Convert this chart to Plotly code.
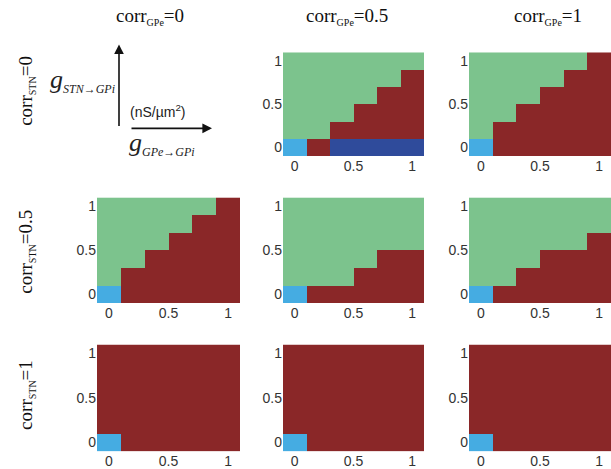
import plotly.graph_objects as go

# ---- data -------------------------------------------------------------
g_gpe = [0, 0.2, 0.4, 0.6, 0.8, 1.0]     # x: g_GPe->GPi (nS/um^2)
g_stn = [0, 0.2, 0.4, 0.6, 0.8, 1.0]     # y: g_STN->GPi (nS/um^2)
corr_gpe_labels = ["0", "0.5", "1"]
corr_stn_labels = ["0", "0.5", "1"]
tick_vals = [0, 0.5, 1]
tick_text = ["0", "0.5", "1"]

# state codes: 1 = light blue, 2 = dark red, 3 = green, 4 = dark blue
# rows listed bottom (g_STN=0) to top (g_STN=1)
stn0_gpe05 = [
    [1, 2, 4, 4, 4, 4],
    [3, 3, 2, 2, 2, 2],
    [3, 3, 3, 2, 2, 2],
    [3, 3, 3, 3, 2, 2],
    [3, 3, 3, 3, 3, 2],
    [3, 3, 3, 3, 3, 3],
]
stn0_gpe1 = [
    [1, 2, 2, 2, 2, 2],
    [3, 2, 2, 2, 2, 2],
    [3, 3, 2, 2, 2, 2],
    [3, 3, 3, 2, 2, 2],
    [3, 3, 3, 3, 2, 2],
    [3, 3, 3, 3, 3, 2],
]
stn05_gpe0 = [
    [1, 2, 2, 2, 2, 2],
    [3, 2, 2, 2, 2, 2],
    [3, 3, 2, 2, 2, 2],
    [3, 3, 3, 2, 2, 2],
    [3, 3, 3, 3, 2, 2],
    [3, 3, 3, 3, 3, 2],
]
stn05_gpe05 = [
    [1, 2, 2, 2, 2, 2],
    [3, 3, 3, 2, 2, 2],
    [3, 3, 3, 3, 2, 2],
    [3, 3, 3, 3, 3, 3],
    [3, 3, 3, 3, 3, 3],
    [3, 3, 3, 3, 3, 3],
]
stn05_gpe1 = [
    [1, 2, 2, 2, 2, 2],
    [3, 3, 2, 2, 2, 2],
    [3, 3, 3, 2, 2, 2],
    [3, 3, 3, 3, 3, 2],
    [3, 3, 3, 3, 3, 3],
    [3, 3, 3, 3, 3, 3],
]
stn1_gpe0 = [
    [1, 2, 2, 2, 2, 2],
    [2, 2, 2, 2, 2, 2],
    [2, 2, 2, 2, 2, 2],
    [2, 2, 2, 2, 2, 2],
    [2, 2, 2, 2, 2, 2],
    [2, 2, 2, 2, 2, 2],
]
stn1_gpe05 = [
    [1, 2, 2, 2, 2, 2],
    [2, 2, 2, 2, 2, 2],
    [2, 2, 2, 2, 2, 2],
    [2, 2, 2, 2, 2, 2],
    [2, 2, 2, 2, 2, 2],
    [2, 2, 2, 2, 2, 2],
]
stn1_gpe1 = [
    [1, 2, 2, 2, 2, 2],
    [2, 2, 2, 2, 2, 2],
    [2, 2, 2, 2, 2, 2],
    [2, 2, 2, 2, 2, 2],
    [2, 2, 2, 2, 2, 2],
    [2, 2, 2, 2, 2, 2],
]

# (row, col) -> grid ; panel (0,0) is the axis legend diagram
panels = {
    (0, 1): stn0_gpe05, (0, 2): stn0_gpe1,
    (1, 0): stn05_gpe0, (1, 1): stn05_gpe05, (1, 2): stn05_gpe1,
    (2, 0): stn1_gpe0, (2, 1): stn1_gpe05, (2, 2): stn1_gpe1,
}

# ---- styling / layout ---------------------------------------------------
W, H = 611, 469
C_LBLUE, C_RED, C_GREEN, C_DBLUE = "#45ACE2", "#8A2728", "#7CC38D", "#2F4B9B"
colorscale = [[0, C_LBLUE], [0.25, C_LBLUE], [0.25, C_RED], [0.5, C_RED],
              [0.5, C_GREEN], [0.75, C_GREEN], [0.75, C_DBLUE], [1, C_DBLUE]]

col_px = [(97, 240), (283, 424), (469, 611)]
row_px = [(53, 158), (200, 307), (349, 457)]

fig = go.Figure()
layout = {}
tickfont = dict(family="Liberation Sans, Arial, sans-serif", size=14, color="#333333")
for (r, c), grid in panels.items():
    n = r * 3 + c + 1
    xa = "x" if n == 1 else f"x{n}"
    ya = "y" if n == 1 else f"y{n}"
    fig.add_trace(go.Heatmap(
        x=g_gpe, y=g_stn, z=grid, zmin=0.5, zmax=4.5,
        colorscale=colorscale, showscale=False,
        xaxis=xa, yaxis=ya, hoverinfo="skip"))
    x0, x1 = col_px[c]
    y0, y1 = row_px[r]
    layout["xaxis" if n == 1 else f"xaxis{n}"] = dict(
        domain=[x0 / W, x1 / W], range=[-0.1, 1.1], anchor=ya,
        tickvals=tick_vals, ticktext=tick_text, tickfont=tickfont,
        showgrid=False, zeroline=False, showline=False, ticks="", ticklen=0)
    layout["yaxis" if n == 1 else f"yaxis{n}"] = dict(
        domain=[1 - y1 / H, 1 - y0 / H], range=[-0.1, 1.1], anchor=xa,
        tickvals=tick_vals, ticktext=tick_text, tickfont=tickfont,
        showgrid=False, zeroline=False, showline=False, ticks="", ticklen=0)

serif = "Liberation Serif, Times New Roman, serif"
SUB = "<sub><span style='font-size:10px'>{}</span></sub>"
annotations = []
# column titles
for txt, xc in zip(corr_gpe_labels, [150, 347, 548]):
    annotations.append(dict(
        text="corr" + SUB.format("GPe") + "=" + txt, x=xc / W, y=1 - 17 / H,
        xref="paper", yref="paper", showarrow=False,
        font=dict(family=serif, size=19, color="#111111"),
        xanchor="center", yanchor="middle"))
# row titles
for txt, yc in zip(corr_stn_labels, [92, 255, 400]):
    annotations.append(dict(
        text="corr" + SUB.format("STN") + "=" + txt, x=27 / W, y=1 - yc / H,
        xref="paper", yref="paper", showarrow=False, textangle=-90,
        font=dict(family=serif, size=19, color="#111111"),
        xanchor="center", yanchor="middle"))

# legend diagram in the empty top-left panel
annotations.append(dict(x=119 / W, y=1 - 45 / H, xref="paper", yref="paper",
                        ax=0, ay=83, axref="pixel", ayref="pixel", text="",
                        showarrow=True, arrowhead=2, arrowsize=1.2,
                        arrowwidth=1.6, arrowcolor="#111111"))
annotations.append(dict(x=212 / W, y=1 - 130 / H, xref="paper", yref="paper",
                        ax=-82, ay=0, axref="pixel", ayref="pixel", text="",
                        showarrow=True, arrowhead=2, arrowsize=1.2,
                        arrowwidth=1.6, arrowcolor="#111111"))
GSUB = "<i>g</i><sub><span style='font-size:12px'><i>{}</i></span></sub>"
annotations.append(dict(text=GSUB.format("STN→GPi"),
                        x=48 / W, y=1 - 82 / H, xref="paper", yref="paper",
                        showarrow=False, xanchor="left", yanchor="middle",
                        font=dict(family=serif, size=26, color="#222222")))
annotations.append(dict(text=GSUB.format("GPe→GPi"),
                        x=127 / W, y=1 - 145 / H, xref="paper", yref="paper",
                        showarrow=False, xanchor="left", yanchor="middle",
                        font=dict(family=serif, size=26, color="#222222")))
annotations.append(dict(text="(nS/µm<sup>2</sup>)",
                        x=128 / W, y=1 - 112 / H, xref="paper", yref="paper",
                        showarrow=False, xanchor="left", yanchor="middle",
                        font=dict(family="Liberation Sans, Arial, sans-serif",
                                  size=14, color="#222222")))

fig.update_layout(
    width=W, height=H, margin=dict(l=0, r=0, t=0, b=0),
    paper_bgcolor="white", plot_bgcolor="white",
    showlegend=False, annotations=annotations, **layout)

fig.write_html("out.html", config={"displayModeBar": False},
               post_script="document.body.style.margin='0';"
                           "document.body.style.overflow='hidden';")
